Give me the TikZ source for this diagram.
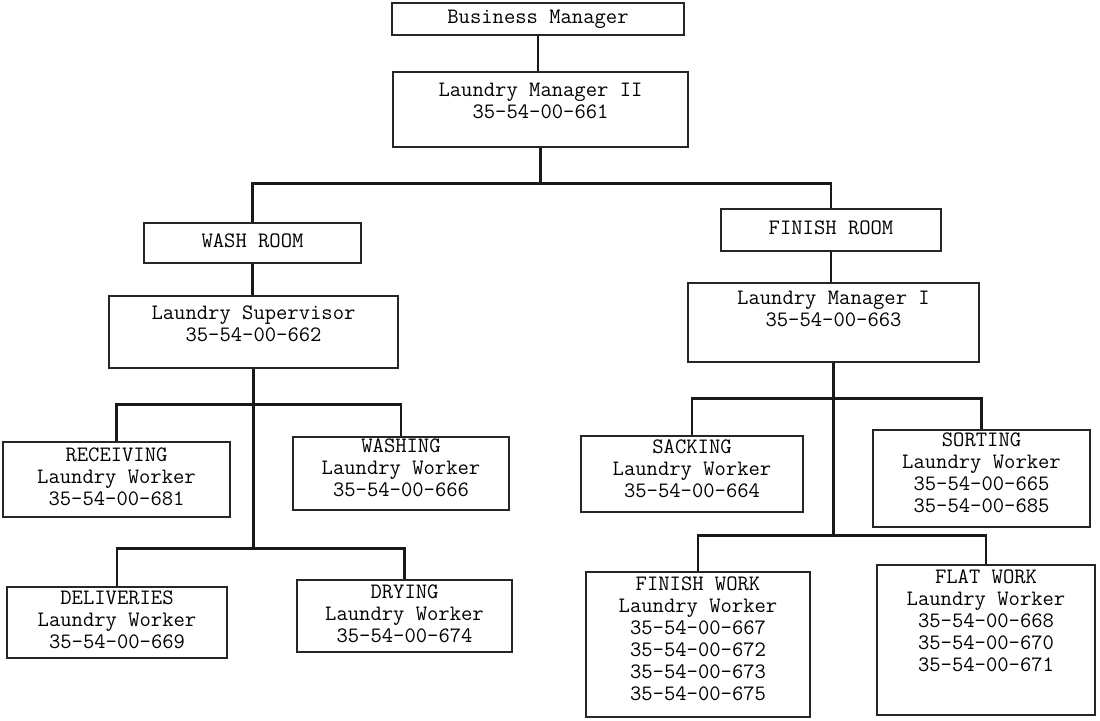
\documentclass[tikz,border=0pt]{standalone}
\newcommand\boxfont{\fontsize{22}{22}\selectfont\ttfamily}
% stacked, centred lines of a box; the optional argument lifts the text inside the frame
\newcommand\boxtext[2][0pt]{\raisebox{#1}[\height][\depth]{\begin{tabular}{@{}c@{}}#2\end{tabular}}}
\begin{document}
\begin{tikzpicture}[x=1pt,y=-1pt,
  box/.style={draw=black!85, line width=1.2pt, rectangle, inner sep=0pt, font=\boxfont},
  conn/.style={draw=black!90, line width=2.6pt, line join=miter}]
\useasboundingbox (0,0) rectangle (1100,720);
\fill[white] (0,0) rectangle (1100,720);

% management
\node[box, minimum width=292pt, minimum height=32pt] (bm) at (538,19) {\boxtext{Business Manager}};
\node[box, minimum width=295pt, minimum height=75pt] (m2) at (540.5,109.5) {\boxtext[6pt]{Laundry Manager II\\35-54-00-661}};

% wash room branch
\node[box, minimum width=217pt, minimum height=40pt] (wr) at (252.5,243) {\boxtext{WASH ROOM}};
\node[box, minimum width=289pt, minimum height=72pt] (sup) at (253.5,332) {\boxtext[6pt]{Laundry Supervisor\\35-54-00-662}};
\node[box, minimum width=227pt, minimum height=75pt] (rec) at (116.5,479.5) {\boxtext{RECEIVING\\Laundry Worker\\35-54-00-681}};
\node[box, minimum width=216pt, minimum height=73pt] (was) at (401,473.5) {\boxtext[3pt]{WASHING\\Laundry Worker\\35-54-00-666}};
\node[box, minimum width=220pt, minimum height=71pt] (del) at (117,622.5) {\boxtext{DELIVERIES\\Laundry Worker\\35-54-00-669}};
\node[box, minimum width=215pt, minimum height=72pt] (dry) at (404.5,616) {\boxtext{DRYING\\Laundry Worker\\35-54-00-674}};

% finish room branch
\node[box, minimum width=220pt, minimum height=42pt] (fr) at (831,230) {\boxtext{FINISH ROOM}};
\node[box, minimum width=291pt, minimum height=79pt] (m1) at (833.5,322.5) {\boxtext[11pt]{Laundry Manager I\\35-54-00-663}};
\node[box, minimum width=222pt, minimum height=76pt] (sack) at (692,474) {\boxtext[3pt]{SACKING\\Laundry Worker\\35-54-00-664}};
\node[box, minimum width=217pt, minimum height=97pt] (sort) at (981.5,478.5) {\boxtext[3pt]{SORTING\\Laundry Worker\\35-54-00-665\\35-54-00-685}};
\node[box, minimum width=224pt, minimum height=145pt] (fw) at (698,644.5) {\boxtext[3pt]{FINISH WORK\\Laundry Worker\\35-54-00-667\\35-54-00-672\\35-54-00-673\\35-54-00-675}};
\node[box, minimum width=218pt, minimum height=150pt] (flat) at (986,640) {\boxtext[17pt]{FLAT WORK\\Laundry Worker\\35-54-00-668\\35-54-00-670\\35-54-00-671}};

% bus points of the connectors
\coordinate (busA) at ([yshift=-36pt]m2.south);
\coordinate (busB) at ([yshift=-36pt]sup.south);
\coordinate (busC) at ([yshift=-180pt]sup.south);
\coordinate (busD) at ([yshift=-36pt]m1.south);
\coordinate (busE) at ([yshift=-173pt]m1.south);

% connectors
\draw[conn] (bm.south) -- (bm.south |- m2.north);
\draw[conn] (m2.south) -- (busA);
\draw[conn] (wr.north) |- (busA) -| (fr.north);

\draw[conn] (wr.south) -- (wr.south |- sup.north);
\draw[conn] (sup.south) -- (busC);
\draw[conn] (rec.north) |- (busB) -| (was.north);
\draw[conn] (del.north) |- (busC) -| (dry.north);

\draw[conn] (fr.south) -- (fr.south |- m1.north);
\draw[conn] (m1.south) -- (busE);
\draw[conn] (sack.north) |- (busD) -| (sort.north);
\draw[conn] (fw.north) |- (busE) -| (flat.north);
\end{tikzpicture}
\end{document}
